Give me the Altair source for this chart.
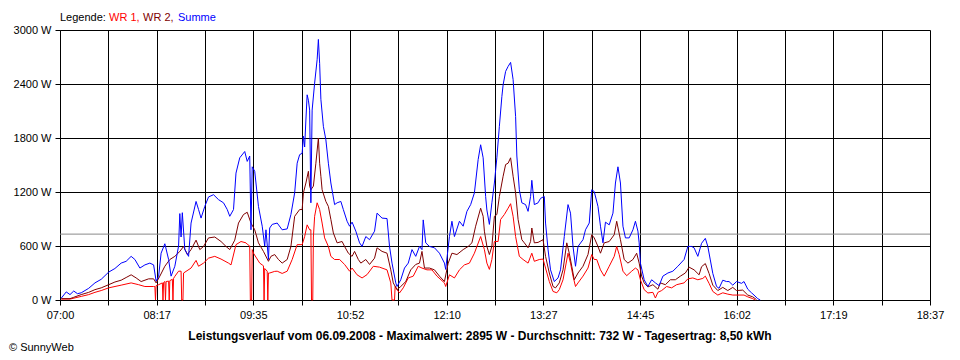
import altair as alt
import pandas as pd

# minutes after 07:00 and power in W
summe_t = [1, 5, 8, 11, 14, 17, 23, 28, 33, 39, 44, 49, 53, 57, 60, 64, 68, 72, 75, 77, 79, 81, 84, 87, 89, 92, 95, 96, 97, 98,
           100, 103, 105, 109, 111, 113, 116, 119, 123, 127, 131, 134, 136, 139, 141, 144, 148, 150, 152, 153, 154, 156, 159,
           162, 164, 165, 167, 168, 170, 174, 178, 182, 185, 188, 190, 192, 194, 195, 196, 197, 198, 199, 200, 201, 202, 204,
           206, 207, 208, 209, 211, 213, 215, 217, 220, 222, 225, 227, 230, 232, 234, 237, 240, 242, 245, 248, 252, 254, 258,
           262, 264, 266, 269, 270, 273, 276, 279, 282, 285, 288, 290, 291, 293, 296, 300, 304, 308, 309, 312, 314, 316, 320,
           323, 326, 329, 332, 335, 337, 339, 341, 342, 344, 346, 348, 350, 352, 354, 355, 357, 359, 361, 363, 365, 366, 368,
           370, 373, 375, 377, 378, 380, 383, 385, 388, 389, 391, 393, 396, 399, 401, 404, 407, 409, 411, 413, 415, 419, 421,
           424, 426, 428, 431, 433, 435, 437, 440, 443, 445, 447, 449, 451, 453, 456, 459, 461, 463, 464, 465, 468, 471, 474,
           477, 480, 483, 487, 491, 495, 500, 503, 506, 508, 511, 514, 517, 519, 521, 523, 526, 528, 531, 534, 536, 539, 542,
           546, 548, 551, 554, 556, 559, 561]
summe_w = [20, 90, 60, 100, 70, 80, 130, 190, 230, 310, 350, 410, 430, 485, 450, 355, 390, 410, 390, 210, 260, 520, 625, 450,
           265, 375, 600, 960, 700, 970, 560, 485, 855, 1095, 1005, 910, 1040, 1145, 1170, 1115, 1080, 1005, 930, 1005, 1410,
           1580, 1650, 1540, 1600, 780, 1480, 1430, 1040, 820, 600, 780, 450, 800, 840, 855, 780, 790, 950, 1190, 1520, 1615,
           1630, 1820, 1700, 2000, 2280, 2220, 2110, 1080, 2110, 2410, 2670, 2895, 2630, 2230, 1930, 1780, 1520, 1300, 1060,
           1080, 1095, 1005, 875, 820, 865, 765, 635, 595, 705, 670, 765, 965, 910, 905, 595, 410, 190, 150, 225, 355, 410,
           560, 485, 595, 560, 890, 635, 595, 580, 520, 410, 340, 705, 875, 705, 875, 820, 985, 1060, 1190, 1560, 1725, 1580,
           1150, 1000, 840, 1080, 1300, 1580, 1930, 2260, 2390, 2540, 2595, 2640, 2450, 2040, 1600, 1225, 1080, 1060, 985,
           1150, 1330, 1060, 1080, 1130, 1150, 855, 560, 335, 205, 245, 335, 705, 1060, 965, 595, 375, 595, 670, 780, 855,
           1225, 1205, 1040, 820, 635, 865, 835, 965, 1300, 1480, 1300, 820, 690, 690, 780, 875, 765, 635, 410, 225, 150, 225,
           190, 160, 265, 300, 320, 375, 450, 595, 595, 580, 485, 630, 685, 595, 445, 295, 150, 130, 220, 205, 205, 165, 205,
           185, 205, 120, 80, 55, 15, 0]

wr2_t = [1, 8, 11, 17, 23, 28, 33, 39, 44, 49, 53, 57, 61, 65, 71, 75, 77, 80, 84, 88, 92, 96, 99, 102, 105, 109, 112, 115,
         119, 124, 129, 133, 136, 140, 143, 147, 150, 153, 156, 159, 163, 167, 169, 172, 175, 178, 182, 185, 188, 192, 194,
         195, 197, 199, 200, 201, 203, 205, 207, 208, 209, 210, 213, 215, 217, 219, 222, 226, 228, 231, 234, 236, 239, 241,
         245, 248, 252, 254, 258, 262, 265, 267, 270, 273, 277, 281, 285, 288, 290, 292, 296, 300, 304, 308, 311, 314, 318,
         323, 327, 330, 333, 337, 339, 340, 342, 344, 346, 348, 350, 352, 355, 357, 359, 361, 363, 365, 367, 370, 372, 375,
         377, 378, 380, 383, 387, 389, 392, 395, 397, 400, 403, 406, 408, 410, 412, 415, 419, 423, 426, 428, 431, 433, 436,
         440, 444, 446, 449, 452, 455, 459, 462, 464, 466, 468, 471, 475, 479, 481, 485, 489, 493, 497, 501, 504, 508, 512,
         514, 517, 520, 523, 527, 531, 535, 539, 542, 547, 551, 555, 558]
wr2_w = [15, 15, 30, 60, 85, 115, 135, 170, 200, 220, 250, 280, 245, 205, 235, 235, 190, 265, 375, 450, 485, 540, 595, 505,
         560, 665, 560, 595, 690, 700, 650, 595, 560, 665, 855, 950, 975, 855, 780, 635, 540, 430, 485, 505, 450, 410, 450,
         595, 930, 1005, 1005, 1190, 1300, 1430, 1265, 1225, 1265, 1520, 1800, 1520, 1375, 1225, 1095, 1040, 895, 745, 635,
         650, 595, 520, 485, 540, 450, 410, 450, 395, 465, 580, 540, 520, 335, 190, 115, 150, 205, 335, 395, 410, 540, 355,
         355, 335, 265, 205, 410, 520, 505, 560, 595, 635, 820, 1020, 930, 765, 596, 505, 596, 930, 950, 1150, 1375, 1505,
         1520, 1580, 1375, 1190, 895, 670, 635, 580, 650, 800, 635, 640, 670, 485, 300, 150, 135, 190, 335, 635, 520, 375,
         225, 300, 375, 505, 725, 690, 595, 520, 635, 650, 725, 875, 670, 450, 410, 450, 520, 410, 265, 190, 145, 170, 120,
         190, 170, 225, 225, 265, 300, 365, 335, 280, 370, 405, 295, 165, 105, 140, 105, 140, 105, 110, 55, 35, 5]

wr1_t = [1, 8, 17, 23, 28, 33, 39, 49, 57, 63, 68, 75, 76, 76.5, 77, 79, 82, 82.5, 83, 84, 84.5, 85, 87, 87.5, 88, 90, 90.5,
         91, 92, 95, 97, 97.5, 98.5, 99, 105, 109, 111, 115, 119, 124, 129, 135, 137, 141, 145, 149, 150, 152, 152.5, 153.5,
         154, 155, 160, 162, 163, 163.5, 164, 166, 166.5, 167, 168, 172, 174, 178, 182, 186, 190, 194, 196, 198, 200, 201,
         201.5, 202.5, 203, 204, 206, 208, 210, 212, 215, 217, 220, 224, 228, 232, 234, 238, 242, 246, 251, 256, 262, 265,
         266, 268, 268.5, 270, 272, 275, 279, 283, 287, 290, 294, 298, 302, 308, 309, 312, 316, 320, 324, 328, 332, 337, 340,
         342, 344, 346, 348, 351, 353, 356, 359, 361, 363, 365, 368, 371, 375, 378, 380, 384, 387, 389, 392, 395, 398, 400,
         403, 407, 409, 411, 413, 415, 419, 423, 426, 428, 430, 433, 436, 440, 444, 446, 448, 451, 454, 458, 461, 463, 465,
         468, 471, 475, 477, 479, 482, 486, 490, 494, 500, 503, 507, 511, 515, 517, 520, 523, 527, 531, 535, 539, 548, 551,
         555, 557]
wr1_w = [10, 10, 40, 60, 85, 105, 135, 165, 190, 170, 150, 150, 150, 0, 160, 170, 190, 0, 195, 205, 0, 205, 210, 0, 215, 230,
         0, 240, 263, 320, 320, 0, 0, 300, 355, 440, 375, 410, 465, 485, 455, 410, 390, 615, 650, 635, 620, 600, 0, 0, 560,
         520, 410, 390, 380, 0, 350, 320, 0, 300, 300, 318, 320, 295, 320, 450, 615, 615, 705, 835, 780, 780, 0, 0, 700, 930,
         1080, 1005, 855, 690, 595, 485, 450, 450, 395, 320, 355, 280, 245, 282, 375, 365, 335, 190, 0, 0, 150, 115, 78, 135,
         245, 265, 375, 355, 335, 335, 265, 190, 150, 280, 245, 335, 390, 410, 520, 705, 560, 410, 340, 450, 650, 650, 895,
         950, 1020, 1070, 930, 705, 485, 450, 410, 520, 430, 450, 455, 355, 205, 95, 80, 115, 225, 520, 410, 265, 150, 190,
         265, 355, 505, 450, 450, 335, 265, 375, 485, 595, 505, 320, 270, 320, 355, 335, 225, 115, 78, 85, 22, 85, 105, 150,
         135, 170, 190, 235, 245, 225, 240, 265, 185, 95, 55, 80, 65, 55, 55, 35, 15, 0]

avg_w = 732
total_min = 697
x_labels = ["07:00", "08:17", "09:35", "10:52", "12:10", "13:27", "14:45", "16:02", "17:19", "18:37"]
y_ticks = [0, 600, 1200, 1800, 2400, 3000]
series_names = ["WR 1", "WR 2", "Summe"]
series_colors = ["#ff0000", "#800000", "#0000ff"]
legend_words = ["Legende:", "WR 1,", "WR 2,", "Summe"]
legend_colors = ["#000000", "#ff0000", "#800000", "#0000ff"]
title_text = ("Leistungsverlauf vom 06.09.2008 - Maximalwert: 2895 W - Durchschnitt: 732 W - "
              "Tagesertrag: 8,50 kWh")
copyright_text = "\u00a9 SunnyWeb"

FONT = "Liberation Sans"

x_tick_values = [total_min * i / 18 for i in range(19)]
lab_arr = []
for i in range(19):
    lab_arr.append(x_labels[i // 2] if i % 2 == 0 else "")
lab_js = "[" + ",".join("'" + s + "'" for s in lab_arr) + "]"

x_enc = alt.X("t:Q",
              scale=alt.Scale(domain=[0, total_min], nice=False, zero=False),
              axis=alt.Axis(values=x_tick_values,
                            labelExpr=lab_js + "[round(datum.value*18/" + str(total_min) + ")]",
                            title=None, grid=True, gridColor="black", gridOpacity=1, gridWidth=1,
                            tickColor="black", tickSize=5, tickWidth=1, domainColor="black",
                            labelColor="black", labelFont=FONT, labelFontSize=11, labelPadding=4,
                            labelFlush=False, labelOverlap=False))
y_enc = alt.Y("w:Q",
              scale=alt.Scale(domain=[0, 3000], nice=False, zero=True),
              axis=alt.Axis(values=y_ticks, labelExpr="datum.value + ' W'",
                            title=None, grid=True, gridColor="black", gridOpacity=1, gridWidth=1,
                            tickColor="black", tickSize=5, tickWidth=1, domainColor="black",
                            labelColor="black", labelFont=FONT, labelFontSize=11, labelPadding=4,
                            labelFlush=False, labelOverlap=False))

series_data = {"WR 1": (wr1_t, wr1_w), "WR 2": (wr2_t, wr2_w), "Summe": (summe_t, summe_w)}

layers = []
avg_df = pd.DataFrame({"w": [avg_w]})
layers.append(alt.Chart(avg_df).mark_rule(color="#8a8a8a", strokeWidth=1).encode(y=y_enc))

for name, col in zip(series_names, series_colors):
    ts, ws = series_data[name]
    df = pd.DataFrame({"t": ts, "w": ws})
    layers.append(alt.Chart(df).mark_line(color=col, strokeWidth=1, interpolate="linear").encode(x=x_enc, y=y_enc))

legend_x = [0, 49, 83, 118]
for word, col, lx in zip(legend_words, legend_colors, legend_x):
    layers.append(
        alt.Chart(pd.DataFrame({"label": [word]}))
        .mark_text(align="left", baseline="alphabetic", font=FONT, fontSize=11, color=col)
        .encode(x=alt.value(lx), y=alt.value(-9), text="label:N")
    )

layers.append(
    alt.Chart(pd.DataFrame({"label": [title_text]}))
    .mark_text(align="center", baseline="alphabetic", font=FONT, fontSize=12, fontWeight="bold", color="black")
    .encode(x=alt.value(420), y=alt.value(310), text="label:N")
)

layers.append(
    alt.Chart(pd.DataFrame({"label": [copyright_text]}))
    .mark_text(align="left", baseline="alphabetic", font=FONT, fontSize=11, color="black")
    .encode(x=alt.value(-51), y=alt.value(321), text="label:N")
)

chart = alt.layer(*layers).properties(
    width=870,
    height=270,
    autosize=alt.AutoSizeParams(type="none"),
    padding={"left": 52, "top": 22, "right": 20, "bottom": 60},
).configure_view(strokeWidth=0).configure(background="white")

chart.save("out.html", embed_options={"renderer": "svg", "actions": False})
